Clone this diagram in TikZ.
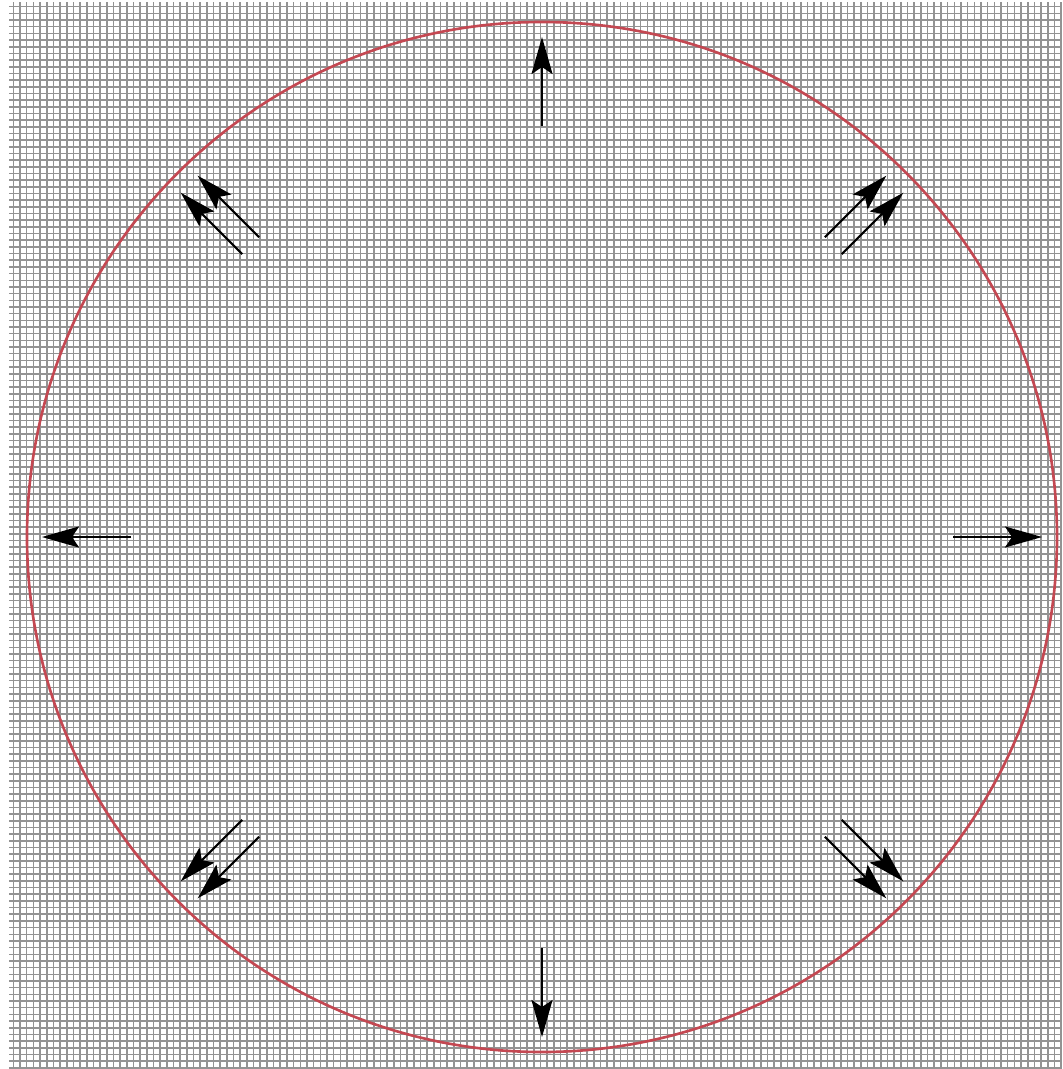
\documentclass[tikz,border=0pt]{standalone}
\usepackage{tikz}
\usetikzlibrary{arrows.meta,calc}
\definecolor{rimred}{RGB}{196,72,82}

\begin{document}
\begin{tikzpicture}[x=0.01cm, y=-0.01cm,
	gridline/.style={gray!85, line width=0.45pt},
	rim/.style={rimred, line width=0.75pt},
	push/.style={-{Stealth[length=3.7mm, width=2.1mm, inset=0.7mm]}, line width=0.6pt}]
	\useasboundingbox (0,0) rectangle (1062,1069);
	\draw[gridline, step=0.0667cm] (9,2) grid (1062,1069);
	\coordinate (O) at (542,537);
	\draw[rim] (O) circle [radius=515];
	% single arrows on the axes
	\foreach \a in {0,90,180,270} {
		\coordinate (in-\a) at ($(O)+(\a:411)$);
		\coordinate (out-\a) at ($(O)+(\a:500)$);
		\draw[push] (in-\a) -- (out-\a);
	}
	% paired arrows on the diagonals
	\foreach \a in {45,135,225,315} {
		\coordinate (inA-\a) at ($(O)+(\a:412)+(\a+90:12)$);
		\coordinate (outA-\a) at ($(O)+(\a:499)+(\a+90:12)$);
		\coordinate (inB-\a) at ($(O)+(\a:412)+(\a-90:12)$);
		\coordinate (outB-\a) at ($(O)+(\a:499)+(\a-90:12)$);
		\draw[push] (inA-\a) -- (outA-\a);
		\draw[push] (inB-\a) -- (outB-\a);
	}
\end{tikzpicture}
\end{document}
